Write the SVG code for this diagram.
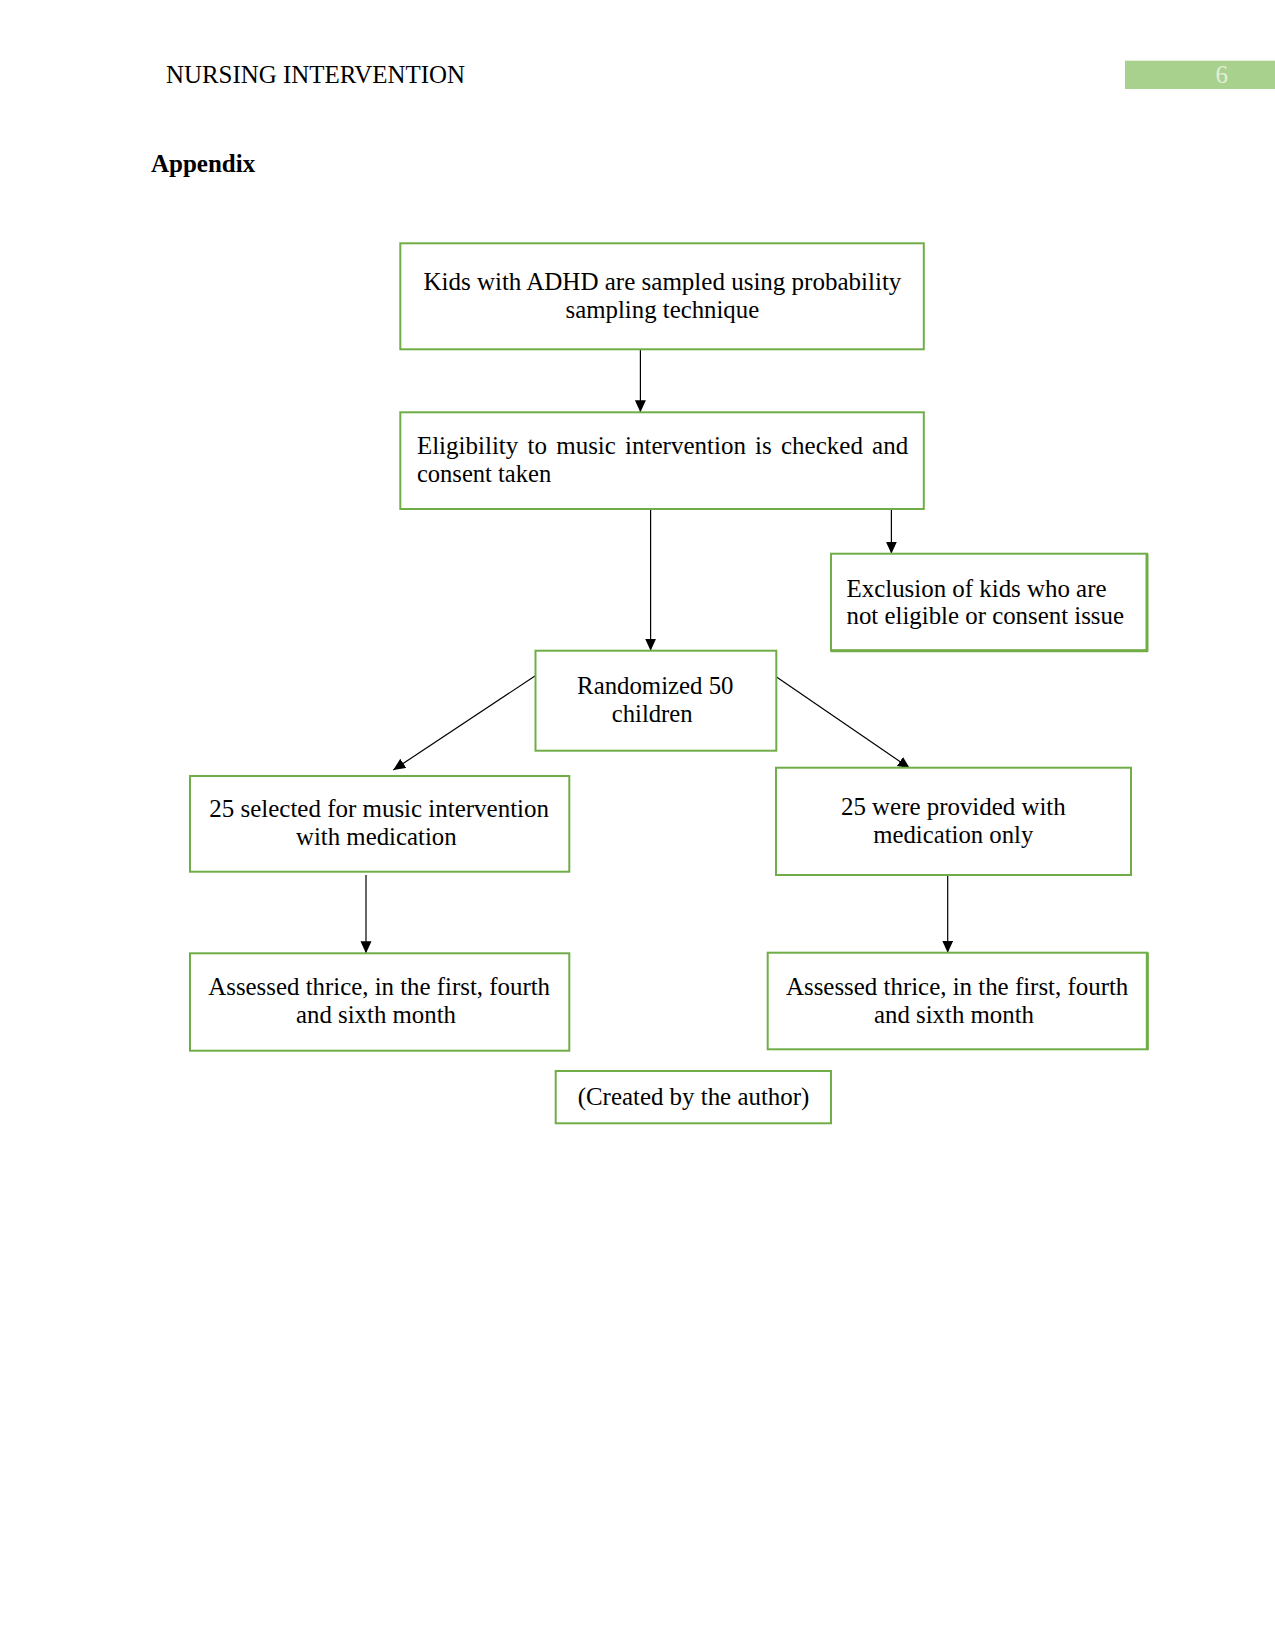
<svg xmlns="http://www.w3.org/2000/svg" width="1275" height="1650" viewBox="0 0 1275 1650">
<style>
  .bx { fill: #ffffff; stroke: #70ad47; stroke-width: 2; }
  .t { font-family: "Liberation Serif", "Times New Roman", serif; font-size: 25px; fill: #000000; }
  .c { stroke: #000000; stroke-width: 1.2; fill: none; marker-end: url(#ah); }
</style>
<defs>
  <marker id="ah" markerUnits="userSpaceOnUse" markerWidth="12" markerHeight="12" refX="12" refY="5.5" orient="auto">
    <path d="M0,0 L12,5.5 L0,11 z" fill="#000000"/>
  </marker>
</defs>
<rect width="1275" height="1650" fill="#ffffff"/>

<g id="header">
  <text class="t" x="166" y="82.7" textLength="299" lengthAdjust="spacingAndGlyphs">NURSING INTERVENTION</text>
  <rect x="1125" y="60.7" width="150" height="28.3" fill="#a9d18e"/>
  <text class="t" x="1221.7" y="82.7" text-anchor="middle" style="fill:#e2efd9">6</text>
  <text class="t" x="151" y="171.7" font-weight="bold">Appendix</text>
</g>

<g id="connectors">
  <line class="c" x1="640.4" y1="349.3" x2="640.4" y2="412.3"/>
  <line class="c" x1="650.6" y1="509" x2="650.6" y2="650.7"/>
  <line class="c" x1="891.4" y1="509" x2="891.4" y2="553.7"/>
  <line class="c" x1="535.7" y1="675.5" x2="393.3" y2="770"/>
  <line class="c" x1="775.1" y1="676" x2="909.8" y2="768.3"/>
  <line class="c" x1="366" y1="875" x2="366" y2="953.3"/>
  <line class="c" x1="947.7" y1="875" x2="947.7" y2="952.7"/>
</g>

<g id="n-sampling">
  <rect class="bx" x="400.3" y="243.3" width="523.5" height="106"/>
  <text class="t" x="423.4" y="290" textLength="478" lengthAdjust="spacingAndGlyphs">Kids with ADHD are sampled using probability</text>
  <text class="t" x="565.6" y="318" textLength="193.6" lengthAdjust="spacingAndGlyphs">sampling technique</text>
</g>

<g id="n-eligibility">
  <rect class="bx" x="400.3" y="412.3" width="523.5" height="96.7"/>
  <text class="t" y="454">
    <tspan x="416.9">Eligibility</tspan>
    <tspan x="527.5">to</tspan>
    <tspan x="556.2">music</tspan>
    <tspan x="625.1">intervention</tspan>
    <tspan x="755.1">is</tspan>
    <tspan x="781">checked</tspan>
    <tspan x="872.1">and</tspan>
  </text>
  <text class="t" x="416.9" y="482" textLength="134.3" lengthAdjust="spacingAndGlyphs">consent taken</text>
</g>

<g id="n-exclusion">
  <rect class="bx" x="831" y="553.7" width="316" height="97"/>
  <line x1="831" y1="650.7" x2="1148" y2="650.7" stroke="#70ad47" stroke-width="3"/>
  <line x1="1147" y1="553.7" x2="1147" y2="651.5" stroke="#70ad47" stroke-width="3"/>
  <text class="t" x="846.5" y="596.7" textLength="260" lengthAdjust="spacingAndGlyphs">Exclusion of kids who are</text>
  <text class="t" x="846.5" y="624" textLength="277.5" lengthAdjust="spacingAndGlyphs">not eligible or consent issue</text>
</g>

<g id="n-randomized">
  <rect class="bx" x="535.5" y="650.7" width="240.8" height="100"/>
  <text class="t" x="577.1" y="694.3" textLength="156.4" lengthAdjust="spacingAndGlyphs">Randomized 50</text>
  <text class="t" x="611.8" y="721.7" textLength="80.8" lengthAdjust="spacingAndGlyphs">children</text>
</g>

<g id="n-music">
  <rect class="bx" x="190" y="776" width="379.3" height="95.7"/>
  <text class="t" x="209.3" y="816.7" textLength="339.7" lengthAdjust="spacingAndGlyphs">25 selected for music intervention</text>
  <text class="t" x="296" y="845" textLength="160.7" lengthAdjust="spacingAndGlyphs">with medication</text>
</g>

<g id="n-medication">
  <rect class="bx" x="776" y="767.7" width="355" height="107.3"/>
  <text class="t" x="841" y="815" textLength="224.7" lengthAdjust="spacingAndGlyphs">25 were provided with</text>
  <text class="t" x="873.3" y="843.3" textLength="160" lengthAdjust="spacingAndGlyphs">medication only</text>
</g>

<g id="n-assess-left">
  <rect class="bx" x="190" y="953.3" width="379.3" height="97.4"/>
  <text class="t" x="208.3" y="995" textLength="341.7" lengthAdjust="spacingAndGlyphs">Assessed thrice, in the first, fourth</text>
  <text class="t" x="296" y="1023.3" textLength="160" lengthAdjust="spacingAndGlyphs">and sixth month</text>
</g>

<g id="n-assess-right">
  <rect class="bx" x="767.7" y="952.7" width="379.6" height="96.6"/>
  <line x1="1147.3" y1="952.7" x2="1147.3" y2="1050" stroke="#70ad47" stroke-width="3"/>
  <text class="t" x="786" y="995" textLength="342.3" lengthAdjust="spacingAndGlyphs">Assessed thrice, in the first, fourth</text>
  <text class="t" x="874" y="1022.7" textLength="160" lengthAdjust="spacingAndGlyphs">and sixth month</text>
</g>

<g id="n-caption">
  <rect class="bx" x="555.7" y="1071" width="275.3" height="52.3"/>
  <text class="t" x="577.7" y="1105" textLength="231.6" lengthAdjust="spacingAndGlyphs">(Created by the author)</text>
</g>
</svg>
